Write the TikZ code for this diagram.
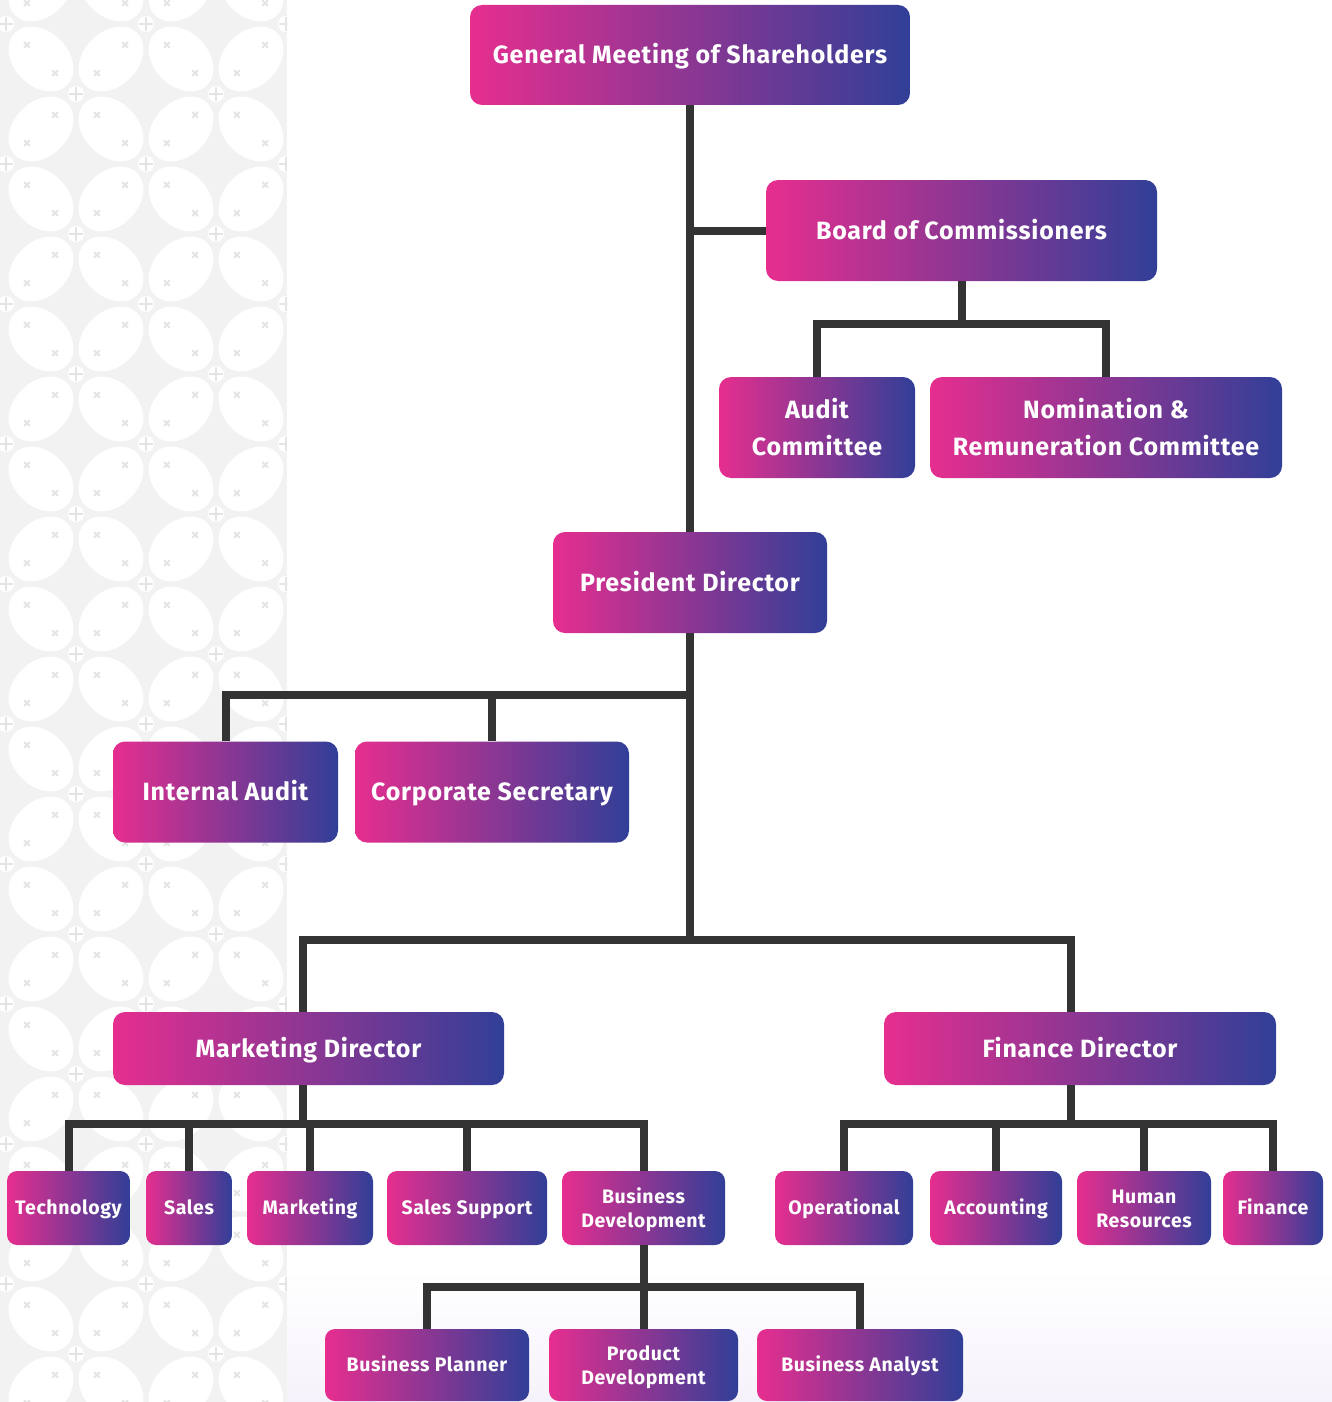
\documentclass[tikz,border=0pt]{standalone}
\usepackage{fontspec}
\setmainfont{Fira Sans}[LetterSpace=3]
\definecolor{pinkc}{HTML}{E62E8F}
\definecolor{bluec}{HTML}{313F97}
\definecolor{linec}{HTML}{333333}
\definecolor{stripc}{HTML}{F2F2F2}
\definecolor{markc}{HTML}{E4E4E4}
\definecolor{lavc}{HTML}{F6F2FB}
\begin{document}
\begin{tikzpicture}[x=1pt,y=-1pt,
  unit/.style={rounded corners=12pt, left color=pinkc, right color=bluec,
    text=white, align=center, inner sep=0pt,
    font=\bfseries\fontsize{25}{37}\selectfont},
  one/.style={text height=20pt, text depth=3pt},
  two/.style={text height=57pt, text depth=1pt},
  small/.style={unit, rounded corners=10pt,
    font=\bfseries\fontsize{19.5}{24}\selectfont, minimum height=74pt},
  sone/.style={text height=16pt, text depth=3pt},
  stwo/.style={text height=40pt, text depth=1pt},
  link/.style={draw=linec, line width=8pt}]

\useasboundingbox (0,0) rectangle (1332,1402);
\fill[white] (0,0) rectangle (1332,1402);
\shade[top color=white, bottom color=lavc] (287,1270) rectangle (1332,1402);
\fill[stripc] (0,0) rectangle (287,1402);
\begin{scope}
\clip (0,0) rectangle (287,1402);
\foreach \i in {0,...,3} {
  \foreach \j in {0,...,21} {
    \pgfmathsetmacro{\r}{45-90*mod(\i+\j,2)}
    \begin{scope}[shift={(41+70*\i,-11+70*\j)}, rotate=\r]
      \fill[white] (0,0) ellipse [x radius=37, y radius=27];
      \draw[markc, line width=2pt] (16,0) -- (24,0) (20,-4) -- (20,4)
        (-16,0) -- (-24,0) (-20,-4) -- (-20,4);
    \end{scope}
  }
}
\foreach \i in {0,...,4} {
  \foreach \j in {0,...,20} {
    \pgfmathsetmacro{\s}{mod(\i+\j,2)}
    \ifdim\s pt<0.5pt
      \fill[white] (6+70*\i,24+70*\j) circle (8);
      \draw[markc, line width=1.5pt] (6+70*\i,17+70*\j) -- (6+70*\i,31+70*\j)
        (-1+70*\i,24+70*\j) -- (13+70*\i,24+70*\j);
    \fi
  }
}
\end{scope}

\node[unit, one, minimum width=440pt, minimum height=100pt] (gms) at (690,55)
  {General Meeting of Shareholders};
\node[unit, one, minimum width=391pt, minimum height=101pt] (boc) at (961.5,230.5)
  {Board of Commissioners};
\node[unit, two, minimum width=196pt, minimum height=101pt] (audit) at (817,427.5)
  {Audit\\Committee};
\node[unit, two, minimum width=352pt, minimum height=101pt] (nrc) at (1106,427.5)
  {Nomination \&\\Remuneration Committee};
\node[unit, one, minimum width=274pt, minimum height=101pt] (pres) at (690,582.5)
  {President Director};
\node[unit, one, minimum width=225pt, minimum height=101pt] (ia) at (225.5,792)
  {Internal Audit};
\node[unit, one, minimum width=274pt, minimum height=101pt] (cs) at (492,792)
  {Corporate Secretary};
\node[unit, one, minimum width=391pt, minimum height=73pt] (mktdir) at (308.5,1048.5)
  {Marketing Director};
\node[unit, one, minimum width=392pt, minimum height=73pt] (findir) at (1080,1048.5)
  {Finance Director};

\node[small, sone, minimum width=123pt] (tech) at (68.5,1208) {Technology};
\node[small, sone, minimum width=86pt] (sales) at (189,1208) {Sales};
\node[small, sone, minimum width=126pt] (mkt) at (310,1208) {Marketing};
\node[small, sone, minimum width=160pt] (ss) at (467,1208) {Sales Support};
\node[small, stwo, minimum width=163pt] (bd) at (643.5,1208) {Business\\Development};
\node[small, sone, minimum width=138pt] (ops) at (844,1208) {Operational};
\node[small, sone, minimum width=132pt] (acc) at (996,1208) {Accounting};
\node[small, stwo, minimum width=134pt] (hr) at (1144,1208) {Human\\Resources};
\node[small, sone, minimum width=100pt] (fin) at (1273,1208) {Finance};

\node[small, sone, minimum width=204pt, minimum height=72pt] (bp) at (427,1365)
  {Business Planner};
\node[small, stwo, minimum width=189pt, minimum height=72pt] (pd) at (643.5,1365)
  {Product\\Development};
\node[small, sone, minimum width=206pt, minimum height=72pt] (ba) at (860,1365)
  {Business Analyst};

\draw[link] (gms.south) -- (pres.north);
\draw[link] (gms.south |- boc.west) -- (boc.west);
\draw[link] (boc.south) -- ++(0,43) -| (audit.north);
\draw[link] (boc.south) -- ++(0,43) -| (nrc.north);
\draw[link] (pres.south) -- ++(0,62) -| (ia.north);
\draw[link] (pres.south) -- ++(0,62) -| (cs.north);
\draw[link] (pres.south) -- ++(0,307) -| ([xshift=-6pt]mktdir.north);
\draw[link] (pres.south) -- ++(0,307) -| ([xshift=-9pt]findir.north);
\foreach \n in {tech, sales, mkt, ss, bd} {
  \draw[link] ([xshift=-6pt]mktdir.south) -- ++(0,39) -| (\n.north);
}
\foreach \n in {ops, acc, hr, fin} {
  \draw[link] ([xshift=-9pt]findir.south) -- ++(0,39) -| (\n.north);
}
\foreach \n in {bp, pd, ba} {
  \draw[link] (bd.south) -- ++(0,42) -| (\n.north);
}
\end{tikzpicture}
\end{document}
